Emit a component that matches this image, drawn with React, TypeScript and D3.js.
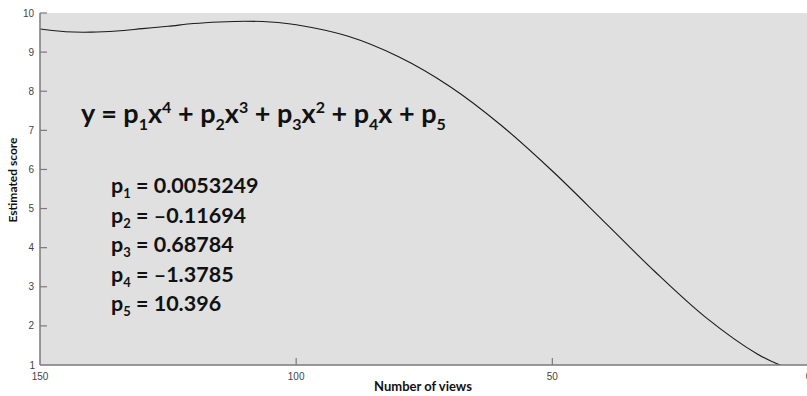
import React from "react";
import * as d3 from "d3";

// Curve (number of views -> estimated score)
const views = [150, 145, 140, 135, 130, 125, 120, 115, 110, 105, 100, 90, 80, 70, 60, 50, 40, 30, 20, 10, 5, 0];
const scores = [9.59, 9.52, 9.51, 9.54, 9.6, 9.66, 9.73, 9.77, 9.79, 9.77, 9.7, 9.41, 8.88, 8.12, 7.13, 5.96, 4.68, 3.39, 2.21, 1.28, 0.97, 0.78];

const xTicks = [150, 100, 50, 0];
const yTicks = [1, 2, 3, 4, 5, 6, 7, 8, 9, 10];

const paramNames = ["1", "2", "3", "4", "5"];
const paramValues = ["0.0053249", "\u20130.11694", "0.68784", "\u20131.3785", "10.396"];

const W = 807;
const H = 396;
const left = 40;
const right = 808.5;
const top = 13;
const bottom = 365;

export default function App() {
  const x = d3.scaleLinear().domain([150, 0]).range([left, right]);
  const y = d3.scaleLinear().domain([1, 10]).range([bottom, top]);
  const pts = views.map((v, i) => [v, scores[i]] as [number, number]);
  const line = d3
    .line<[number, number]>()
    .x((d) => x(d[0]))
    .y((d) => y(d[1]))
    .curve(d3.curveCatmullRom.alpha(0.5));

  const tickFont = "'Liberation Sans', Arial, sans-serif";
  const bold = "Lato, 'Open Sans', sans-serif";

  return (
    <svg
      width={W}
      height={H}
      style={{ position: "absolute", left: 0, top: 0, display: "block" }}
    >
      <defs>
        <clipPath id="plotClip">
          <rect x={left} y={top} width={right - left} height={bottom - top} />
        </clipPath>
      </defs>
      <rect x={0} y={0} width={W} height={H} fill="#ffffff" />
      <rect x={left} y={top} width={right - left} height={bottom - top} fill="#e0e0e0" />

      {/* curve */}
      <path
        d={line(pts) || ""}
        fill="none"
        stroke="#1a1a1a"
        strokeWidth={1.1}
        clipPath="url(#plotClip)"
      />

      {/* axes */}
      <line x1={left} x2={left} y1={top} y2={bottom} stroke="#7a7a7a" strokeWidth={1.5} />
      <line x1={left} x2={right} y1={bottom} y2={bottom} stroke="#7a7a7a" strokeWidth={1.5} />

      {yTicks.map((t) => (
        <g key={"y" + t}>
          {t !== 1 && (
            <line x1={left} x2={left + 7} y1={y(t)} y2={y(t)} stroke="#7a7a7a" strokeWidth={1.2} />
          )}
          <text
            x={t === 1 ? 35 : 34}
            y={y(t)}
            dy="0.36em"
            textAnchor="end"
            fontFamily={tickFont}
            fontSize={10}
            fill="#444"
          >
            {t}
          </text>
        </g>
      ))}

      {xTicks.map((t) => (
        <g key={"x" + t}>
          {t !== 150 && t !== 0 && (
            <line x1={x(t)} x2={x(t)} y1={bottom} y2={bottom - 7} stroke="#7a7a7a" strokeWidth={1.2} />
          )}
          <text
            x={x(t)}
            y={380}
            textAnchor="middle"
            fontFamily={tickFont}
            fontSize={10}
            fill="#444"
          >
            {t}
          </text>
        </g>
      ))}

      {/* axis titles */}
      <text
        x={423}
        y={391}
        textAnchor="middle"
        fontFamily={bold}
        fontWeight="bold"
        fontSize={13}
        fill="#111"
      >
        Number of views
      </text>
      <text
        transform="translate(16.5,180) rotate(-90)"
        textAnchor="middle"
        fontFamily={bold}
        fontWeight="bold"
        fontSize={12}
        fill="#111"
      >
        Estimated score
      </text>

      {/* equation */}
      <text x={81} y={123} fontFamily={bold} fontWeight="bold" fontSize={27} fill="#111">
        <tspan>y = p</tspan>
        <tspan fontSize={16} dy={7}>1</tspan>
        <tspan dy={-7}>x</tspan>
        <tspan fontSize={16} dy={-10}>4</tspan>
        <tspan dy={10}> + p</tspan>
        <tspan fontSize={16} dy={7}>2</tspan>
        <tspan dy={-7}>x</tspan>
        <tspan fontSize={16} dy={-10}>3</tspan>
        <tspan dy={10}> + p</tspan>
        <tspan fontSize={16} dy={7}>3</tspan>
        <tspan dy={-7}>x</tspan>
        <tspan fontSize={16} dy={-10}>2</tspan>
        <tspan dy={10}> + p</tspan>
        <tspan fontSize={16} dy={7}>4</tspan>
        <tspan dy={-7}>x + p</tspan>
        <tspan fontSize={16} dy={7}>5</tspan>
      </text>

      {/* parameters */}
      {paramNames.map((n, i) => (
        <text
          key={"p" + n}
          x={111}
          y={193 + i * 29.5}
          fontFamily={bold}
          fontWeight="bold"
          fontSize={21.5}
          fill="#111"
        >
          <tspan>p</tspan>
          <tspan fontSize={13} dy={5}>{n}</tspan>
          <tspan dy={-5}>{" = " + paramValues[i]}</tspan>
        </text>
      ))}
    </svg>
  );
}
